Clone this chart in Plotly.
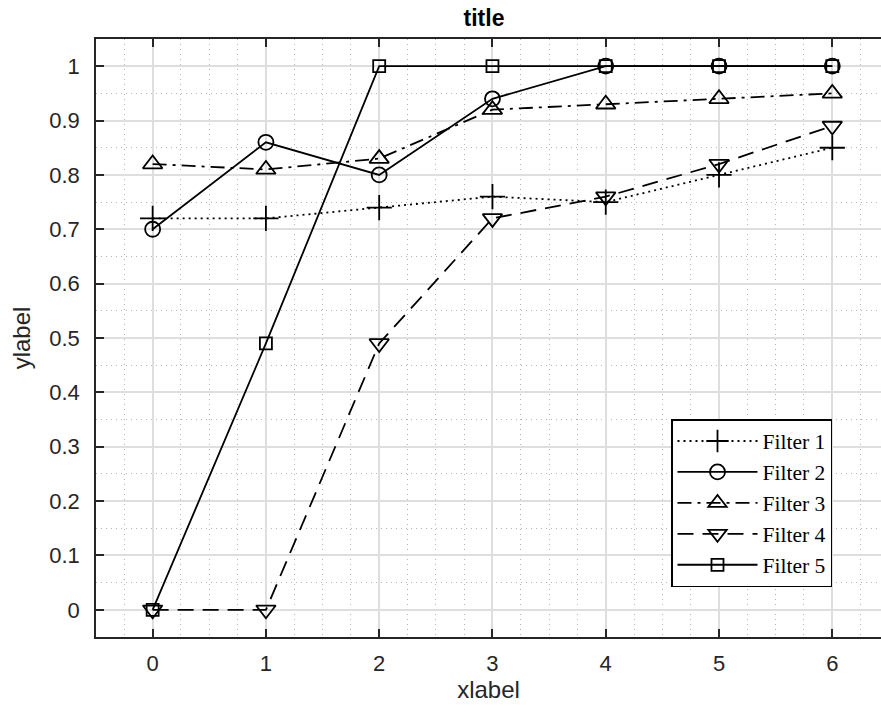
import plotly.graph_objects as go

x_vals = [0, 1, 2, 3, 4, 5, 6]
filter1 = [0.72, 0.72, 0.74, 0.76, 0.75, 0.80, 0.85]
filter2 = [0.70, 0.86, 0.80, 0.94, 1.00, 1.00, 1.00]
filter3 = [0.82, 0.81, 0.83, 0.92, 0.93, 0.94, 0.95]
filter4 = [0.00, 0.00, 0.49, 0.72, 0.76, 0.82, 0.89]
filter5 = [0.00, 0.49, 1.00, 1.00, 1.00, 1.00, 1.00]
names = ["Filter 1", "Filter 2", "Filter 3", "Filter 4", "Filter 5"]
series = [filter1, filter2, filter3, filter4, filter5]

symbols = ["cross-thin-open", "circle-open", "triangle-up-open", "triangle-down-open", "square-open"]
sizes = [18, 15, 17, 17, 12]
dashes = ["2px,4px", "solid", "14px,6px,3px,6px", "16px,9px", "solid"]

fig = go.Figure()
for name, ys, sym, sz, dsh in zip(names, series, symbols, sizes, dashes):
    fig.add_trace(go.Scatter(
        x=x_vals, y=ys, name=name, mode="lines+markers",
        line=dict(color="black", width=1.8, dash=dsh),
        marker=dict(symbol=sym, size=sz, color="black", line=dict(color="black", width=1.8)),
    ))

sans = "Liberation Sans, Arial, sans-serif"
axis_font = dict(family=sans, size=22, color="#262626")
label_font = dict(family=sans, size=24, color="#262626")
fig.update_layout(
    width=881, height=713,
    margin=dict(l=96, r=0, t=39, b=76),
    plot_bgcolor="white", paper_bgcolor="white",
    title=dict(text="<b>title</b>", x=484 / 881, xref="container", xanchor="center",
               y=1 - 18 / 713, yref="container", yanchor="middle",
               font=dict(family=sans, size=23, color="black")),
    legend=dict(x=(832 - 96) / 785, xanchor="right", y=(637 - 587) / 598, yanchor="bottom",
                bgcolor="white", bordercolor="black", borderwidth=1.5,
                font=dict(family="Liberation Serif, DejaVu Serif, serif", size=21.5, color="black"),
                itemwidth=80, tracegroupgap=0),
    showlegend=True,
)

fig.update_xaxes(
    range=[-0.5, 6.43], dtick=1, tick0=0, ticks="inside", ticklen=8, tickwidth=1.5, tickcolor="#262626",
    showline=True, linecolor="#262626", linewidth=1.5, mirror="ticks",
    showgrid=True, gridcolor="#dedede", gridwidth=1.5, zeroline=False,
    tickfont=axis_font, ticklabelstandoff=6,
    title=dict(text="xlabel", font=label_font, standoff=6),
    minor=dict(dtick=0.25, showgrid=True, gridcolor="#b4b4b4", griddash="1px,4px", gridwidth=1, ticks=""),
)
fig.update_yaxes(
    range=[-0.05, 1.05], dtick=0.1, tick0=0, ticks="inside", ticklen=8, tickwidth=1.5, tickcolor="#262626",
    showline=True, linecolor="#262626", linewidth=1.5, mirror=False,
    showgrid=True, gridcolor="#dedede", gridwidth=1.5, zeroline=False,
    tickfont=axis_font, ticklabelstandoff=10,
    title=dict(text="ylabel", font=label_font, standoff=12),
    minor=dict(dtick=0.05, showgrid=True, gridcolor="#b4b4b4", griddash="1px,4px", gridwidth=1, ticks=""),
)

fig.write_html("out.html", config={"displayModeBar": False},
               post_script="document.body.style.margin='0';document.body.style.overflow='hidden';")
